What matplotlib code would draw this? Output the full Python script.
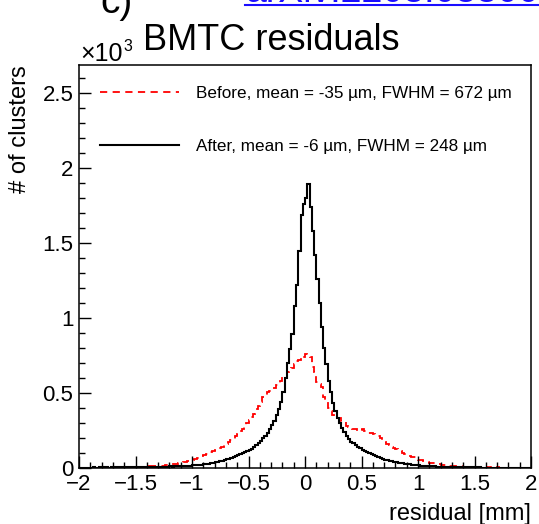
import numpy as np
import matplotlib
matplotlib.use("Agg")
import matplotlib.pyplot as plt
from matplotlib.lines import Line2D
from matplotlib.ticker import MultipleLocator, FuncFormatter

# residual histograms, 200 bins from -2 to 2 mm (0.02 mm wide), counts per bin
bin_lo, bin_hi, n_bins = -2.0, 2.0, 200

before_counts = [
    2, 3, 2, 3, 2, 3, 3, 2, 3, 3,
    3, 3, 4, 3, 4, 4, 3, 5, 4, 5,
    5, 6, 5, 6, 7, 6, 8, 7, 8, 9,
    9, 11, 10, 12, 13, 12, 15, 16, 18, 20,
    22, 25, 27, 29, 32, 35, 38, 41, 44, 48,
    52, 58, 66, 72, 78, 84, 90, 97, 104, 111,
    118, 126, 134, 142, 150, 160, 172, 184, 195, 215,
    228, 245, 262, 278, 300, 318, 340, 362, 390, 415,
    440, 472, 488, 506, 512, 524, 530, 552, 556, 582,
    605, 615, 640, 650, 668, 690, 712, 720, 745, 738,
    760, 745, 738, 670, 640, 575, 560, 540, 470, 448,
    400, 378, 350, 348, 332, 334, 314, 308, 280, 276,
    270, 258, 262, 248, 252, 258, 244, 242, 236, 234,
    228, 222, 210, 198, 182, 170, 158, 150, 140, 132,
    125, 118, 110, 100, 90, 85, 80, 76, 72, 65,
    56, 52, 45, 42, 38, 35, 32, 30, 27, 24,
    22, 20, 18, 17, 15, 14, 13, 12, 11, 10,
    9, 8, 7, 6, 6, 5, 5, 4, 5, 4,
    4, 3, 4, 3, 3, 4, 3, 2, 3, 3,
    2, 3, 2, 2, 3, 2, 2, 2, 3, 2,
]

after_counts = [
    2, 3, 2, 3, 3, 2, 4, 3, 3, 4,
    3, 4, 4, 3, 5, 4, 4, 5, 4, 5,
    5, 4, 6, 5, 5, 6, 6, 5, 7, 6,
    7, 6, 8, 7, 8, 8, 7, 9, 9, 8,
    10, 9, 11, 10, 12, 11, 13, 12, 14, 15,
    17, 18, 20, 21, 23, 25, 27, 29, 32, 35,
    39, 42, 45, 49, 53, 57, 62, 68, 73, 79,
    85, 92, 98, 104, 112, 119, 127, 138, 150, 164,
    180, 198, 216, 236, 258, 284, 316, 352, 390, 440,
    505, 600, 700, 790, 890, 1080, 1220, 1450, 1690, 1760,
    1800, 1895, 1740, 1580, 1420, 1260, 1100, 940, 800, 690,
    580, 505, 432, 378, 333, 298, 266, 240, 214, 192,
    176, 165, 150, 141, 132, 122, 114, 106, 100, 94,
    86, 78, 72, 64, 58, 54, 50, 47, 44, 41,
    38, 35, 33, 30, 28, 26, 24, 22, 20, 19,
    17, 16, 15, 13, 13, 11, 10, 10, 9, 8,
    8, 7, 7, 6, 7, 6, 5, 6, 5, 5,
    5, 4, 5, 4, 4, 4, 3, 4, 3, 3,
    3, 3, 2, 3, 3, 2, 3, 2, 2, 3,
    2, 2, 2, 1, 2, 2, 1, 2, 1, 1,
]

before_label = "Before, mean = -35 \u00b5m, FWHM = 672 \u00b5m"
after_label = "After, mean = -6 \u00b5m, FWHM = 248 \u00b5m"

plt.rcParams["font.family"] = ["Liberation Sans", "DejaVu Sans"]

edges = np.linspace(bin_lo, bin_hi, n_bins + 1)
before = np.array(before_counts) / 1000.0
after = np.array(after_counts) / 1000.0

fig = plt.figure(figsize=(5.39, 5.24), dpi=100)
ax = fig.add_axes([0.1466, 0.1069, 0.8386, 0.7691])

red_ls = (0, (4, 3))
ax.stairs(before, edges, color="red", linewidth=1.3, linestyle=red_ls)
ax.stairs(after, edges, color="black", linewidth=1.5)

ax.set_xlim(-2, 2)
ax.set_ylim(0, 2.687)

ax.xaxis.set_major_locator(MultipleLocator(0.5))
ax.xaxis.set_minor_locator(MultipleLocator(0.1))
ax.yaxis.set_major_locator(MultipleLocator(0.5))
ax.yaxis.set_minor_locator(MultipleLocator(0.1))
fmt = FuncFormatter(lambda v, p: ("%g" % round(v, 3)).replace("-", "\u2212"))
ax.xaxis.set_major_formatter(fmt)
ax.yaxis.set_major_formatter(fmt)

ax.tick_params(which="both", direction="in", top=False, right=False, width=1.0,
               labelsize=16)
ax.tick_params(which="major", length=8.6, pad=4)
ax.tick_params(which="minor", length=4.3)
for s in ax.spines.values():
    s.set_linewidth(1.1)

ax.set_xlabel("residual [mm]", fontsize=17, loc="right", labelpad=6)
ax.set_ylabel("# of clusters", fontsize=17, loc="top", labelpad=8)

handles = [Line2D([], [], color="red", linewidth=1.3, linestyle=red_ls),
           Line2D([], [], color="black", linewidth=1.5)]
ax.legend(handles, [before_label, after_label], loc="upper left",
          bbox_to_anchor=(21 / 452, 0.948), frameon=False, fontsize=12.3,
          handlelength=4.6, handletextpad=1.0, labelspacing=2.25,
          borderpad=0, borderaxespad=0)

# headings above the frame
fig.text(271.7 / 539, 1 - 50 / 524, "BMTC residuals", fontsize=26,
         ha="center", va="baseline")
fig.text(80 / 539, 1 - 61 / 524, "\u00d710", fontsize=18,
         ha="left", va="baseline")
fig.text(123 / 539, 1 - 51 / 524, "3", fontsize=11.5,
         ha="left", va="baseline")
fig.text(100 / 539, 1 - 13 / 524, "c)", fontsize=28, ha="left", va="baseline")
fig.text(245 / 539, 1 - 2 / 524, "arXiv:2208.08300", fontsize=27,
         color="#1a0dff", ha="left", va="baseline")
fig.add_artist(Line2D([245 / 539, 1.0], [1 - 4.5 / 524, 1 - 4.5 / 524],
                      color="#1a0dff", linewidth=1.5))

fig.savefig("out.png", dpi=100)
